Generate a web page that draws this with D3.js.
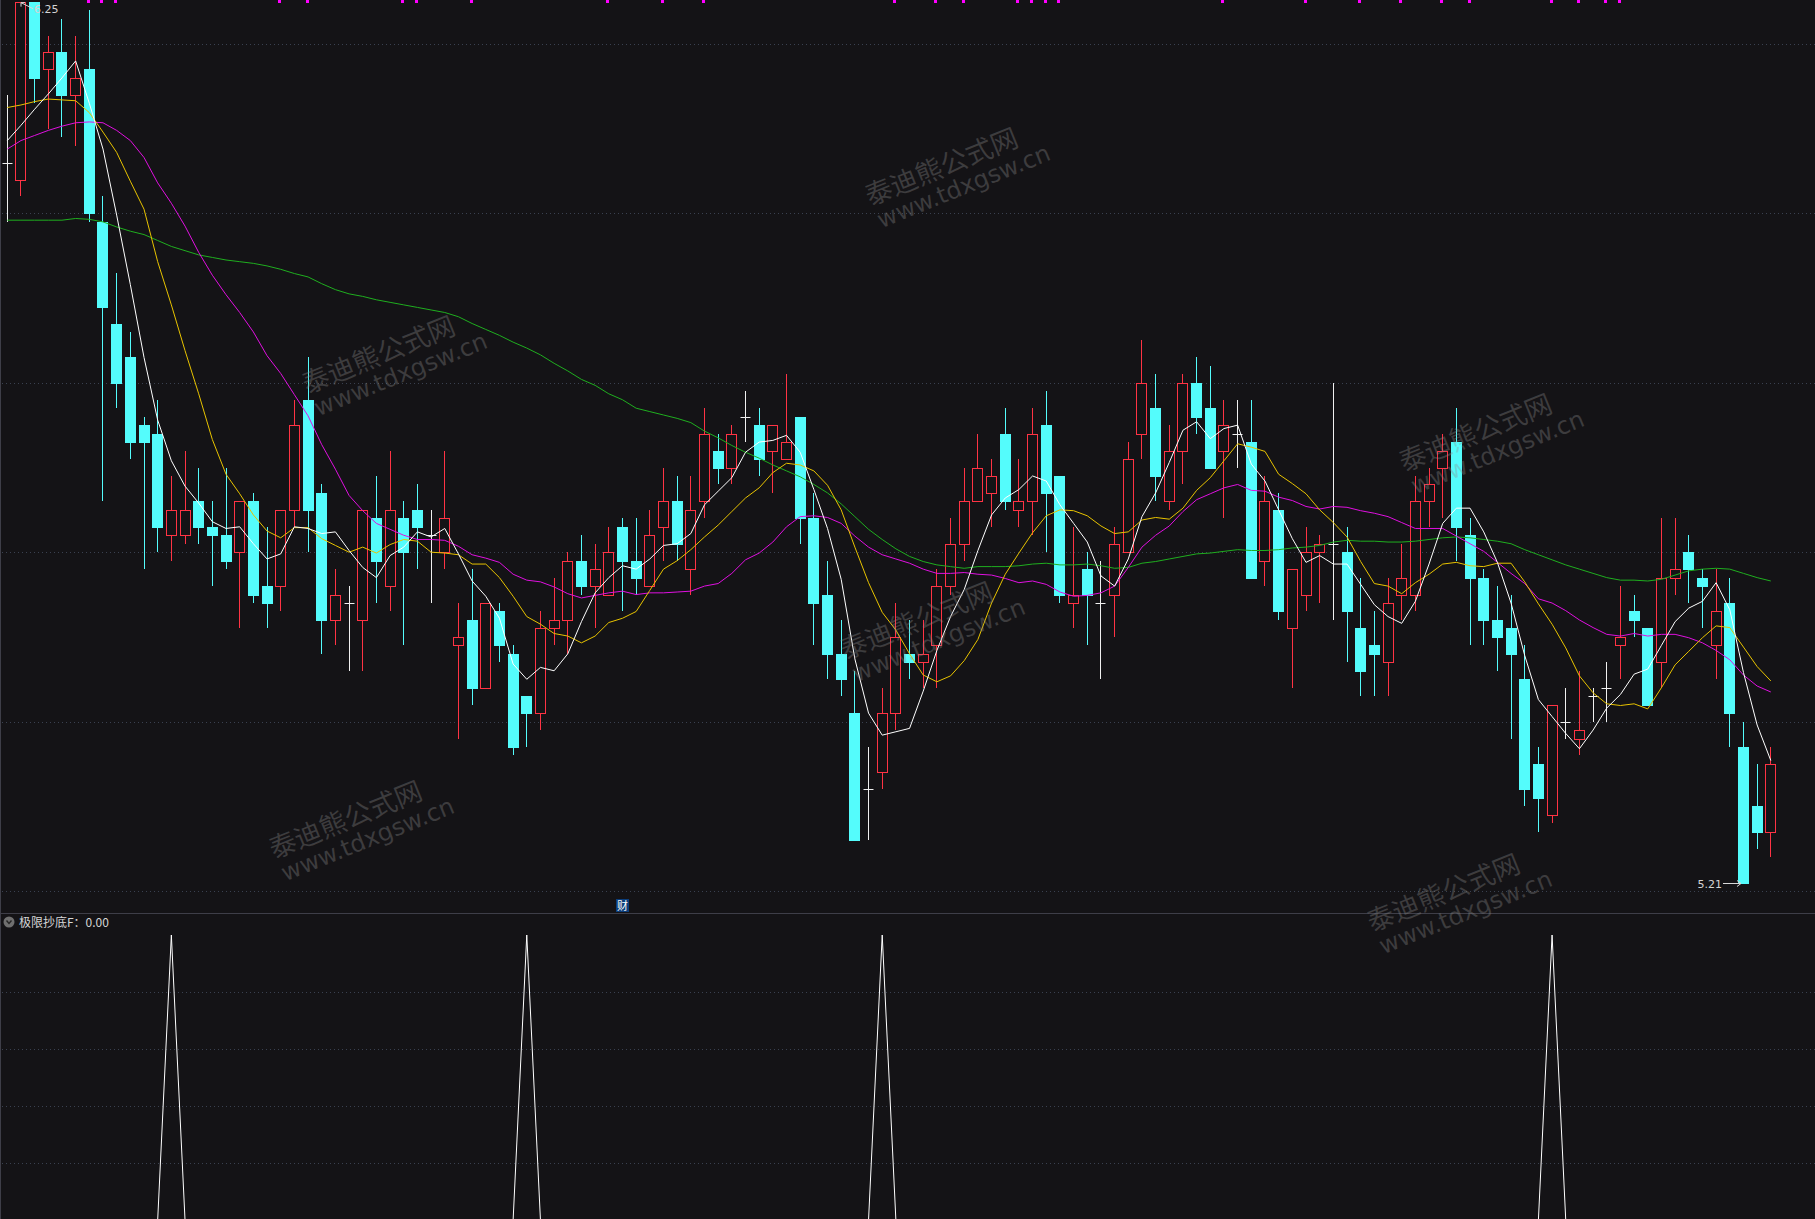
<!DOCTYPE html>
<html>
<head>
<meta charset="utf-8">
<script src="https://cdn.jsdelivr.net/npm/d3@7"></script>
<style>
  body { margin: 0; background: #141316; overflow: hidden; }
  svg { display: block; }
</style>
</head>
<body>
<svg id="chart" width="1815" height="1219"></svg>
<script>
// daily bars (price in yuan)
const opens = [6.06,6.04,6.25,6.17,6.19,6.14,6.17,5.99,5.87,5.83, 5.75,5.74,5.62,5.62,5.66,5.63,5.62,5.60,5.66,5.56,
  5.56,5.65,5.78,5.67,5.52,5.54,5.52,5.64,5.56,5.64, 5.65,5.62,5.60,5.49,5.52,5.44,5.53,5.48,5.43,5.41,
  5.51,5.52,5.59,5.56,5.55,5.63,5.59,5.56,5.63,5.66, 5.58,5.66,5.72,5.70,5.76,5.75,5.72,5.71,5.76,5.64,
  5.55,5.48,5.41,5.32,5.34,5.41,5.48,5.47,5.49,5.56, 5.61,5.66,5.67,5.74,5.65,5.66,5.75,5.69,5.54,5.58,
  5.54,5.55,5.60,5.74,5.77,5.66,5.72,5.80,5.77,5.72, 5.74,5.73,5.59,5.65,5.51,5.55,5.60,5.61,5.60,5.51,
  5.49,5.47,5.55,5.55,5.66,5.70,5.73,5.62,5.57,5.52, 5.51,5.45,5.35,5.29,5.40,5.38,5.43,5.44,5.49,5.53,
  5.51,5.47,5.57,5.60,5.57,5.49,5.54,5.37,5.30,5.27];
const highs = [6.14,6.25,6.25,6.21,6.23,6.21,6.24,6.02,5.93,5.86, 5.76,5.78,5.69,5.72,5.70,5.66,5.70,5.66,5.67,5.63,
  5.65,5.78,5.83,5.68,5.58,5.56,5.65,5.69,5.72,5.66, 5.68,5.65,5.72,5.54,5.58,5.54,5.54,5.49,5.43,5.53,
  5.57,5.60,5.62,5.61,5.63,5.64,5.64,5.65,5.70,5.69, 5.69,5.77,5.74,5.75,5.79,5.77,5.75,5.81,5.76,5.67,
  5.59,5.52,5.46,5.37,5.44,5.54,5.52,5.52,5.58,5.64, 5.70,5.74,5.71,5.77,5.71,5.77,5.79,5.69,5.63,5.60,
  5.59,5.63,5.73,5.85,5.81,5.75,5.81,5.83,5.82,5.78, 5.78,5.78,5.69,5.67,5.58,5.63,5.62,5.80,5.63,5.57,
  5.53,5.57,5.61,5.69,5.70,5.74,5.77,5.64,5.58,5.56, 5.55,5.49,5.37,5.42,5.44,5.46,5.44,5.47,5.56,5.55,
  5.51,5.64,5.64,5.62,5.58,5.58,5.57,5.40,5.35,5.37];
const lows = [5.99,6.02,6.13,6.10,6.09,6.08,5.99,5.66,5.77,5.71, 5.58,5.60,5.59,5.61,5.61,5.56,5.58,5.51,5.54,5.51,
  5.53,5.63,5.60,5.48,5.49,5.46,5.46,5.54,5.53,5.49, 5.58,5.54,5.58,5.38,5.42,5.44,5.47,5.36,5.37,5.39,
  5.49,5.48,5.55,5.51,5.55,5.53,5.55,5.56,5.59,5.59, 5.55,5.64,5.68,5.68,5.73,5.69,5.67,5.71,5.61,5.49,
  5.45,5.43,5.26,5.26,5.32,5.39,5.45,5.44,5.44,5.55, 5.59,5.66,5.63,5.65,5.63,5.62,5.60,5.54,5.51,5.49,
  5.45,5.50,5.60,5.71,5.66,5.65,5.68,5.74,5.70,5.64, 5.70,5.57,5.56,5.52,5.44,5.53,5.54,5.52,5.47,5.43,
  5.43,5.43,5.52,5.53,5.63,5.64,5.59,5.49,5.49,5.46, 5.38,5.30,5.27,5.28,5.38,5.36,5.40,5.40,5.45,5.50,
  5.42,5.44,5.55,5.54,5.51,5.45,5.37,5.21,5.25,5.24];
const closes = [6.06,6.25,6.16,6.19,6.14,6.16,6.00,5.89,5.80,5.73, 5.73,5.63,5.65,5.65,5.63,5.62,5.59,5.66,5.55,5.54,
  5.65,5.75,5.65,5.52,5.55,5.54,5.65,5.59,5.65,5.60, 5.63,5.62,5.64,5.50,5.44,5.54,5.49,5.37,5.41,5.51,
  5.52,5.59,5.56,5.58,5.60,5.59,5.57,5.62,5.66,5.61, 5.65,5.74,5.70,5.74,5.76,5.71,5.75,5.73,5.64,5.54,
  5.48,5.45,5.26,5.32,5.41,5.50,5.47,5.48,5.56,5.61, 5.66,5.70,5.69,5.66,5.66,5.74,5.67,5.55,5.55,5.55,
  5.54,5.61,5.71,5.80,5.69,5.72,5.80,5.76,5.70,5.75, 5.74,5.57,5.66,5.53,5.58,5.60,5.61,5.61,5.53,5.46,
  5.48,5.54,5.57,5.66,5.68,5.72,5.63,5.57,5.52,5.50, 5.48,5.32,5.31,5.42,5.40,5.39,5.43,5.44,5.50,5.52,
  5.42,5.57,5.58,5.58,5.56,5.53,5.41,5.21,5.27,5.35];

// moving-average lines as they appear on the chart
const ma5 = [6.086,6.104,6.123,6.141,6.160,6.180,6.130,6.076,5.998,5.916, 5.830,5.756,5.708,5.678,5.658,5.636,5.628,5.630,5.610,5.592,
  5.598,5.630,5.628,5.622,5.624,5.602,5.582,5.570,5.596,5.606, 5.624,5.618,5.628,5.598,5.566,5.548,5.522,5.468,5.450,5.464,
  5.460,5.480,5.518,5.552,5.570,5.584,5.580,5.592,5.608,5.610, 5.622,5.656,5.672,5.688,5.718,5.730,5.732,5.738,5.718,5.674,
  5.628,5.568,5.474,5.410,5.384,5.388,5.392,5.436,5.484,5.524, 5.556,5.602,5.644,5.664,5.674,5.690,5.684,5.656,5.634,5.612,
  5.572,5.560,5.592,5.642,5.670,5.706,5.744,5.754,5.734,5.746, 5.750,5.704,5.684,5.650,5.616,5.588,5.596,5.586,5.586,5.562,
  5.538,5.524,5.516,5.542,5.586,5.634,5.652,5.652,5.624,5.588, 5.540,5.478,5.426,5.406,5.386,5.368,5.390,5.416,5.432,5.456,
  5.462,5.490,5.518,5.534,5.542,5.564,5.532,5.458,5.396,5.354];
const ma10 = [6.125,6.128,6.132,6.135,6.134,6.133,6.119,6.096,6.072,6.038, 6.005,5.943,5.892,5.838,5.787,5.733,5.692,5.669,5.644,5.625,
  5.617,5.629,5.629,5.616,5.608,5.600,5.606,5.599,5.609,5.615, 5.613,5.600,5.599,5.597,5.586,5.586,5.570,5.548,5.524,5.515,
  5.504,5.501,5.493,5.501,5.517,5.522,5.530,5.555,5.580,5.590, 5.603,5.618,5.632,5.648,5.664,5.676,5.694,5.705,5.703,5.696,
  5.679,5.650,5.606,5.564,5.529,5.508,5.480,5.455,5.447,5.454, 5.472,5.497,5.540,5.574,5.599,5.623,5.643,5.650,5.649,5.643,
  5.631,5.622,5.624,5.638,5.641,5.639,5.652,5.673,5.688,5.708, 5.728,5.724,5.719,5.692,5.681,5.669,5.650,5.635,5.618,5.589,
  5.563,5.560,5.551,5.564,5.574,5.586,5.588,5.584,5.583,5.587, 5.587,5.565,5.539,5.515,5.487,5.454,5.434,5.421,5.419,5.421,
  5.415,5.440,5.467,5.483,5.499,5.513,5.511,5.488,5.465,5.448];
const ma20 = [6.076,6.086,6.092,6.098,6.103,6.107,6.108,6.107,6.098,6.086, 6.066,6.036,6.012,5.985,5.954,5.927,5.904,5.883,5.860,5.832,
  5.811,5.786,5.761,5.727,5.698,5.667,5.649,5.634,5.627,5.620, 5.615,5.615,5.614,5.607,5.597,5.593,5.588,5.574,5.567,5.565,
  5.559,5.551,5.546,5.549,5.552,5.554,5.550,5.552,5.552,5.553, 5.554,5.560,5.563,5.575,5.591,5.599,5.612,5.630,5.642,5.643,
  5.641,5.634,5.619,5.606,5.597,5.592,5.587,5.580,5.575,5.575, 5.576,5.574,5.573,5.569,5.564,5.566,5.562,5.553,5.548,5.549,
  5.552,5.560,5.582,5.606,5.620,5.631,5.648,5.662,5.669,5.676, 5.680,5.673,5.672,5.665,5.661,5.654,5.651,5.654,5.653,5.649,
  5.646,5.642,5.635,5.628,5.628,5.628,5.619,5.610,5.601,5.588, 5.575,5.563,5.545,5.540,5.531,5.520,5.511,5.503,5.501,5.504,
  5.501,5.503,5.503,5.499,5.493,5.484,5.473,5.455,5.442,5.435];
const ma60 = [5.992,5.992,5.992,5.992,5.992,5.994,5.993,5.990,5.984,5.979, 5.975,5.968,5.961,5.956,5.951,5.948,5.945,5.943,5.941,5.938,
  5.934,5.929,5.925,5.917,5.910,5.905,5.902,5.898,5.895,5.892, 5.889,5.886,5.883,5.878,5.870,5.863,5.856,5.848,5.841,5.833,
  5.823,5.814,5.804,5.797,5.787,5.780,5.770,5.766,5.762,5.758, 5.753,5.743,5.735,5.726,5.718,5.711,5.703,5.696,5.689,5.680,
  5.670,5.657,5.642,5.627,5.615,5.604,5.595,5.589,5.585,5.583, 5.581,5.583,5.583,5.583,5.584,5.586,5.587,5.585,5.585,5.586,
  5.584,5.581,5.582,5.587,5.589,5.592,5.595,5.598,5.599,5.601, 5.603,5.602,5.602,5.603,5.605,5.606,5.608,5.612,5.614,5.613,
  5.613,5.612,5.612,5.613,5.615,5.617,5.618,5.617,5.615,5.613, 5.610,5.603,5.597,5.591,5.585,5.580,5.575,5.570,5.567,5.567,
  5.566,5.568,5.573,5.578,5.580,5.581,5.580,5.575,5.570,5.566];

// bars flagged by the magenta dots along the top edge
const topMarks = [6,7,8,20,22,29,30,34,44,48,51,65,68,70,74,75,76,77,89,95,99,102,105,107,113,115,117,118];
// bars where 极限抄底F fires (value 1)
const bottomSignals = [12, 38, 64, 113];
const caiIndex = 45;

const priceTicks = [6.2, 6.0, 5.8, 5.6, 5.4, 5.2];
const signalTicks = [0.2, 0.4, 0.6, 0.8];
const indicatorName = "极限抄底F";
const indicatorValue = "0.00";

const W = 1815, H = 1219;
const RED = "#ff3344", CYAN = "#54fcfc", WHITE = "#f0f0f0";
const svg = d3.select("#chart");

const x = d3.scaleLinear().domain([0, closes.length - 1]).range([6.8, 1770.3]);
const y = d3.scaleLinear().domain([5.2, 6.2]).range([891, 44]);
const ySig = d3.scaleLinear().domain([0, 1]).range([1220, 935]);

svg.append("rect").attr("width", W).attr("height", H).attr("fill", "#141316");

// Dotted grid in both panels
const grid = svg.append("g").attr("stroke", "#3a4150").attr("stroke-dasharray", "1,3");
grid.selectAll(".pg").data(priceTicks).enter().append("line")
  .attr("x1", 2).attr("x2", W)
  .attr("y1", d => Math.round(y(d)) + 0.5).attr("y2", d => Math.round(y(d)) + 0.5);
grid.selectAll(".sg").data(signalTicks).enter().append("line")
  .attr("x1", 2).attr("x2", W)
  .attr("y1", d => Math.round(ySig(d)) + 0.5).attr("y2", d => Math.round(ySig(d)) + 0.5);

// panel frame
svg.append("line").attr("x1", 0).attr("x2", W).attr("y1", 913.5).attr("y2", 913.5).attr("stroke", "#3e3e48");
svg.append("line").attr("x1", 0.5).attr("x2", 0.5).attr("y1", 0).attr("y2", H).attr("stroke", "#3e3e48");

// Candles
const bars = d3.range(closes.length).map(i => ({
  i, o: opens[i], h: highs[i], l: lows[i], c: closes[i]
}));
const cg = svg.append("g");
bars.forEach(d => {
  const cx = Math.round(x(d.i)) + 0.5;
  const yh = Math.round(y(d.h)), yl = Math.round(y(d.l));
  const yt = Math.round(y(Math.max(d.o, d.c))), yb = Math.round(y(Math.min(d.o, d.c)));
  if (d.c === d.o) {
    cg.append("line").attr("x1", cx).attr("x2", cx).attr("y1", yh).attr("y2", yl).attr("stroke", WHITE);
    cg.append("line").attr("x1", cx - 5).attr("x2", cx + 5).attr("y1", yt + 0.5).attr("y2", yt + 0.5).attr("stroke", WHITE);
  } else if (d.c > d.o) {
    // hollow red body, wicks stop at the body
    cg.append("line").attr("x1", cx).attr("x2", cx).attr("y1", yh).attr("y2", yt).attr("stroke", RED);
    cg.append("line").attr("x1", cx).attr("x2", cx).attr("y1", yb).attr("y2", yl).attr("stroke", RED);
    cg.append("rect").attr("x", cx - 5).attr("y", yt + 0.5).attr("width", 10).attr("height", Math.max(1, yb - yt))
      .attr("fill", "#141316").attr("stroke", RED);
  } else {
    cg.append("line").attr("x1", cx).attr("x2", cx).attr("y1", yh).attr("y2", yl).attr("stroke", CYAN);
    cg.append("rect").attr("x", cx - 5.5).attr("y", yt).attr("width", 11).attr("height", Math.max(1, yb - yt + 1))
      .attr("fill", CYAN);
  }
});

// Moving averages
const maLine = d3.line().x((d, i) => x(i) + 0.5).y(d => y(d));
[[ma60, "#1fae1f"], [ma20, "#e010e0"], [ma10, "#e8c300"], [ma5, "#ffffff"]].forEach(([s, col]) => {
  svg.append("path").datum(s).attr("d", maLine).attr("fill", "none").attr("stroke", col).attr("stroke-width", 1);
});

// magenta dots at the top
svg.append("g").selectAll("rect").data(topMarks).enter().append("rect")
  .attr("x", d => Math.round(x(d)) - 2).attr("y", 0).attr("width", 3).attr("height", 3).attr("fill", "#ff00ff");

// High / low labels
const iMax = d3.maxIndex(highs), iMin = d3.minIndex(lows);
const hx = Math.round(x(iMax)), hy = y(highs[iMax]);
svg.append("path")
  .attr("d", `M${hx + 13},${hy + 7} L${hx + 1},${hy + 1} M${hx + 1},${hy + 1} L${hx + 1},${hy + 5} M${hx + 1},${hy + 1} L${hx + 5},${hy + 1}`)
  .attr("stroke", "#d8d8d8").attr("fill", "none");
svg.append("text").attr("x", hx + 14).attr("y", hy + 11)
  .attr("font-family", "DejaVu Sans").attr("font-size", 11).attr("fill", "#d4d4d4")
  .text(d3.format(".2f")(highs[iMax]));

const lx = Math.round(x(iMin)), ly = Math.round(y(lows[iMin])) + 0.5;
svg.append("path")
  .attr("d", `M${lx - 20},${ly} L${lx - 2},${ly} M${lx - 6},${ly - 3} L${lx - 2},${ly} L${lx - 6},${ly + 3}`)
  .attr("stroke", "#d8d8d8").attr("fill", "none");
svg.append("text").attr("x", lx - 21).attr("y", ly + 4).attr("text-anchor", "end")
  .attr("font-family", "DejaVu Sans").attr("font-size", 11).attr("fill", "#d4d4d4")
  .text(d3.format(".2f")(lows[iMin]));

// "财" tag under the price panel
const caiX = Math.round(x(caiIndex));
svg.append("rect").attr("x", caiX - 6).attr("y", 899).attr("width", 13).attr("height", 13).attr("fill", "#0b3d7a");
svg.append("text").attr("x", caiX + 0.5).attr("y", 910).attr("text-anchor", "middle")
  .attr("font-family", "Noto Sans CJK SC").attr("font-size", 11).attr("fill", "#ffffff").text("财");

// Lower panel: signal spikes
const sigValues = d3.range(closes.length).map(i => bottomSignals.includes(i) ? 1 : 0);
svg.append("path").datum(sigValues)
  .attr("d", d3.line().x((d, i) => x(i) + 0.5).y(d => ySig(d)))
  .attr("fill", "none").attr("stroke", "#ffffff").attr("stroke-width", 1);

// indicator title
svg.append("circle").attr("cx", 9).attr("cy", 922).attr("r", 5.5).attr("fill", "#6f6f6f");
svg.append("path").attr("d", "M6.5,920.5 L9,923.5 L11.5,920.5").attr("fill", "none").attr("stroke", "#262626").attr("stroke-width", 1.4);
svg.append("text").attr("x", 19).attr("y", 926.5)
  .attr("font-family", "Noto Sans CJK SC").attr("font-size", 12).attr("fill", "#d6d6d6")
  .text(`${indicatorName}：${indicatorValue}`);

// Watermarks
const marks = [[870, 206], [307, 394], [1404, 472], [845, 660], [274, 859], [1372, 932]];
marks.forEach(([mx, my]) => {
  const g = svg.append("g").attr("transform", `translate(${mx},${my}) rotate(-22)`)
    .attr("fill", "rgba(140,140,140,0.34)");
  g.append("text").attr("font-family", "Noto Sans CJK SC").attr("font-size", 27).text("泰迪熊公式网");
  g.append("text").attr("x", 2).attr("y", 25).attr("font-family", "DejaVu Sans").attr("font-size", 24).text("www.tdxgsw.cn");
});
</script>
</body>
</html>
